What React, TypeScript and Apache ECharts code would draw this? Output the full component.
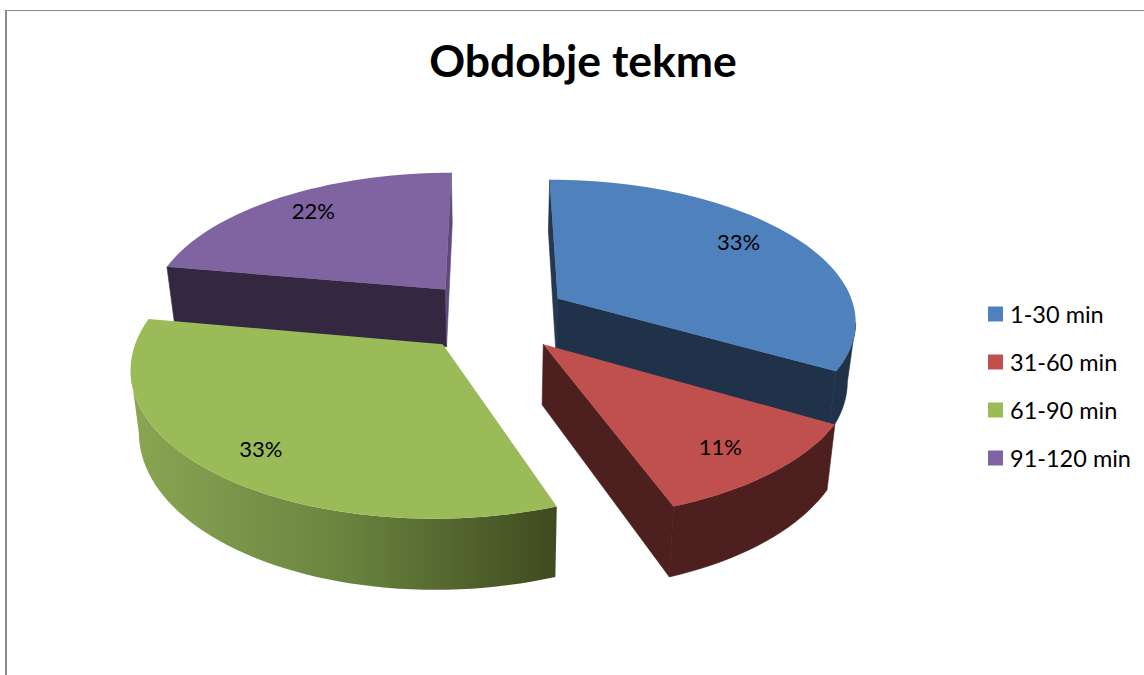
import React, { useEffect, useRef } from "react";
import * as echarts from "echarts";

const categories = ["1-30 min", "31-60 min", "61-90 min", "91-120 min"];
const counts = [3, 1, 3, 2];
const topColors = ["#4f81bd", "#c0504d", "#9bbb59", "#8064a2"];
const wallColors = ["#1f3249", "#4d1f1e", "#8aa653", "#33283f"];
const backEdgeColors = ["#24394f", "#4d1f1e", "#8aa653", "#604a7b"];
const seriesOrder = [1, 2, 2, 1];
const labelShifts = [
  [-20, -2],
  [-15, -5],
  [10, -3],
  [10, 1],
];

const chartTitle = "Obdobje tekme";
const FONT = "Lato, 'Open Sans', sans-serif";

// projection parameters
const CX = 493, CY = 316, RADIUS = 299, EXPLODE = 76, TILT = 0.47, PERSP = 4.8e-4;
const DEPTH = 59, BOTTOM_SHRINK = 0.977, LABEL_R = 255;

const total = counts.reduce((a, b) => a + b, 0);
const rad = (d: number) => (d * Math.PI) / 180;

function project(X: number, Y: number): [number, number] {
  const s = 1 / (1 + PERSP * Y);
  return [CX + X * s, CY - TILT * Y * s];
}
function drop(X: number, Y: number): [number, number] {
  const s = 1 / (1 + PERSP * Y);
  const [x, y] = project(X, Y);
  return [CX + (x - CX) * BOTTOM_SHRINK, y + DEPTH * s];
}

function renderSlice(index: number) {
  return (_params: any, api: any) => {
    const value = api.value(0);
    let before = 0;
    for (let i = 0; i < index; i++) before += counts[i];
    const a0 = (before / total) * 360;
    const a1 = a0 + (value / total) * 360;
    const mid = rad((a0 + a1) / 2);
    const ox = EXPLODE * Math.sin(mid), oy = EXPLODE * Math.cos(mid);
    const world: [number, number][] = [];
    const steps = Math.max(4, Math.round((a1 - a0) / 2));
    for (let i = 0; i <= steps; i++) {
      const a = rad(a0 + ((a1 - a0) * i) / steps);
      world.push([ox + RADIUS * Math.sin(a), oy + RADIUS * Math.cos(a)]);
    }
    const apexT = project(ox, oy), apexB = drop(ox, oy);
    const top = world.map((w) => project(w[0], w[1]));
    const bot = world.map((w) => drop(w[0], w[1]));
    const cross = (a: number[], b: number[], c: number[]) =>
      (b[0] - a[0]) * (c[1] - a[1]) - (b[1] - a[1]) * (c[0] - a[0]);
    const faces = (a: number[], b: number[], inner: number[]) => {
      const down = [a[0], a[1] + 10];
      return cross(a, b, inner) * cross(a, b, down) < 0;
    };
    const midTop = top[Math.floor(steps / 2)];
    const children: any[] = [];
    const radial = (edge: number[], edgeB: number[], angle: number) => {
      if (faces(apexT, edge, midTop)) {
        const fill = Math.cos(rad(angle)) > 0.95 ? backEdgeColors[index] : wallColors[index];
        children.push({
          type: "polygon",
          shape: { points: [apexT, edge, edgeB, apexB] },
          style: { fill, stroke: fill, lineWidth: 0.6 },
        });
      }
    };
    radial(top[0], bot[0], a0);
    radial(top[steps], bot[steps], a1);
    // outer wall: front-facing run of the arc
    let first = -1, last = -1;
    for (let i = 0; i < steps; i++) {
      if (faces(top[i], top[i + 1], apexT)) {
        if (first < 0) first = i;
        last = i + 1;
      }
    }
    if (first >= 0) {
      const pts = [...top.slice(first, last + 1), ...bot.slice(first, last + 1).reverse()];
      const fill: any =
        index === 2
          ? new echarts.graphic.LinearGradient(0, 0, 1, 0, [
              { offset: 0, color: "#8aa653" },
              { offset: 0.5, color: "#6a843f" },
              { offset: 1, color: "#3f4a20" },
            ])
          : wallColors[index];
      children.push({
        type: "polygon",
        shape: { points: pts },
        style: index === 2 ? { fill } : { fill, stroke: fill, lineWidth: 0.6 },
      });
    }
    children.push({ type: "polygon", shape: { points: [apexT, ...top] }, style: { fill: topColors[index] } });
    const lab = project(ox + LABEL_R * Math.sin(mid), oy + LABEL_R * Math.cos(mid));
    children.push({
      type: "text",
      style: {
        text: Math.round((value / total) * 100) + "%",
        x: lab[0] + labelShifts[index][0],
        y: lab[1] + labelShifts[index][1],
        fill: "#000",
        font: `22px ${FONT}`,
        align: "center",
        verticalAlign: "middle",
      },
    });
    return { type: "group", children };
  };
}

export default function App() {
  const ref = useRef<HTMLDivElement>(null);
  useEffect(() => {
    const chart = echarts.init(ref.current!, undefined, { renderer: "svg" });
    chart.setOption({
      animation: false,
      backgroundColor: "#ffffff",
      title: {
        text: chartTitle,
        left: 583,
        top: 37,
        padding: 0,
        textAlign: "center",
        textStyle: { fontFamily: FONT, fontWeight: "bold", fontSize: 44.5, color: "#000" },
      },
      legend: {
        orient: "vertical",
        left: 988,
        top: 302,
        padding: 0,
        itemWidth: 15,
        itemHeight: 15,
        itemGap: 24,
        selectedMode: false,
        icon: "rect",
        data: categories,
        textStyle: { fontFamily: FONT, fontSize: 23.5, color: "#000", padding: [0, 0, 0, 2] },
      },
      graphic: [
        { type: "line", silent: true, shape: { x1: 6, y1: 10, x2: 6, y2: 675 }, style: { stroke: "#8a8a8a", lineWidth: 2 } },
        { type: "line", silent: true, shape: { x1: 6, y1: 10.5, x2: 1144, y2: 10.5 }, style: { stroke: "#8a8a8a", lineWidth: 1 } },
      ],
      series: categories.map((name, i) => ({
        type: "custom",
        name,
        coordinateSystem: "none",
        z: seriesOrder[i],
        silent: true,
        itemStyle: { color: topColors[i] },
        data: [[counts[i]]],
        renderItem: renderSlice(i),
      })),
    });
    return () => chart.dispose();
  }, []);
  return <div ref={ref} style={{ position: "absolute", left: 0, top: 0, width: 1144, height: 675 }} />;
}
